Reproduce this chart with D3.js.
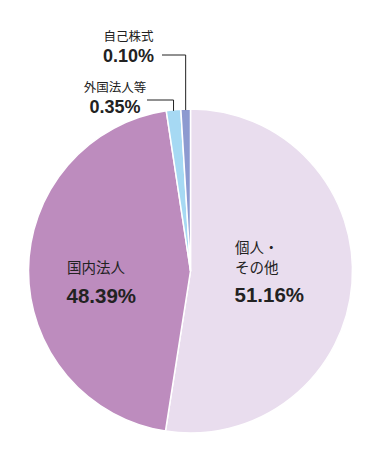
<!DOCTYPE html>
<html>
<head>
<meta charset="utf-8">
<script src="https://cdn.jsdelivr.net/npm/d3@7"></script>
<style>
  body { margin: 0; background: #fff; }
  text { font-family: "Liberation Sans", Arial, "Noto Sans CJK JP", sans-serif; fill: #222; }
</style>
</head>
<body>
<script>
// categories, clockwise from 12 o'clock
var categories = ["個人・その他", "国内法人", "外国法人等", "自己株式"];
// percentages as printed on the chart
var percents = [51.16, 48.39, 0.35, 0.10];
// slice sizes as drawn in the source (the tiny slices are enlarged there)
var drawnShares = [52.47, 45.14, 1.44, 0.95];
var colors = ["#e9ddee", "#bd8cbe", "#a6d9f3", "#8d9ad0"];

var w = 380;
var h = 450;
var cx = 190.5;
var cy = 271;
var r = 162;

var svg = d3.select("body")
  .append("svg")
  .attr("width", w)
  .attr("height", h);

var data = categories.map(function(c, i) {
  return { name: c, pct: percents[i], share: drawnShares[i], color: colors[i] };
});

var pie = d3.pie()
  .sort(null)
  .value(function(d) { return d.share; });

var arc = d3.arc()
  .innerRadius(0)
  .outerRadius(r);

var arcs = pie(data);

var g = svg.append("g")
  .attr("transform", "translate(" + cx + "," + cy + ")");

g.selectAll("path")
  .data(arcs)
  .enter()
  .append("path")
  .attr("d", arc)
  .attr("fill", function(d) { return d.data.color; })
  .attr("stroke", "#fff")
  .attr("stroke-width", 1.5);

// big labels inside the two main slices
function fmt(v) {
  return v.toFixed(2) + "%";
}

var inside = svg.append("g");

inside.append("text")
  .attr("x", 235).attr("y", 252.5)
  .attr("font-size", "14.5px")
  .text("個人・");
inside.append("text")
  .attr("x", 235).attr("y", 272.5)
  .attr("font-size", "14.5px")
  .text("その他");
inside.append("text")
  .attr("x", 234.5).attr("y", 301.5)
  .attr("font-size", "20.5px")
  .attr("font-weight", "bold")
  .text(fmt(percents[0]));

inside.append("text")
  .attr("x", 67).attr("y", 272.5)
  .attr("font-size", "14.5px")
  .text(categories[1]);
inside.append("text")
  .attr("x", 66.5).attr("y", 302.5)
  .attr("font-size", "20.5px")
  .attr("font-weight", "bold")
  .text(fmt(percents[1]));

// small slices: labels outside with leader lines
var outside = [
  { i: 2, tx: 115, nameY: 91.5, pctY: 113, lineY: 100, lineX0: 147 },
  { i: 3, tx: 128.5, nameY: 40.5, pctY: 61.5, lineY: 55, lineX0: 162 }
];

outside.forEach(function(o) {
  var a = arcs[o.i];
  var mid = (a.startAngle + a.endAngle) / 2;
  var px = cx + Math.sin(mid) * r;
  var py = cy - Math.cos(mid) * r;

  svg.append("path")
    .attr("d", "M" + o.lineX0 + "," + o.lineY + "H" + px + "V" + (py + 1))
    .attr("fill", "none")
    .attr("stroke", "#222")
    .attr("stroke-width", 1);

  svg.append("text")
    .attr("x", o.tx).attr("y", o.nameY)
    .attr("text-anchor", "middle")
    .attr("font-size", "12.5px")
    .text(categories[o.i]);

  svg.append("text")
    .attr("x", o.tx).attr("y", o.pctY)
    .attr("text-anchor", "middle")
    .attr("font-size", "18px")
    .attr("font-weight", "bold")
    .text(fmt(percents[o.i]));
});
</script>
</body>
</html>
